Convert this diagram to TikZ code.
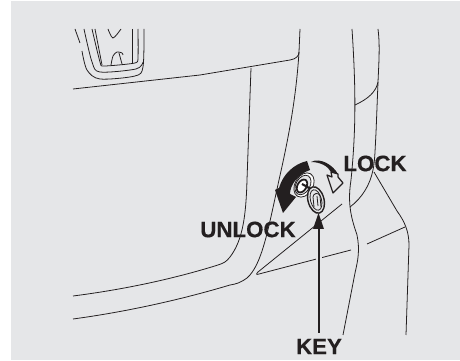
\documentclass[tikz,border=0pt]{standalone}
\usepackage{fontspec}
\setmainfont[BoldFeatures={FakeBold=0.4}]{Liberation Sans}
\definecolor{panel}{HTML}{E5E6E8}
\definecolor{ink}{HTML}{231F20}
\tikzset{
    outline/.style={draw=ink,line width=0.45pt},
    label/.style={text=ink,font=\fontsize{12.7}{12.7}\selectfont\bfseries,inner sep=0pt},
}
\begin{document}
\begin{tikzpicture}[x=0.02cm,y=-0.02cm]
    \useasboundingbox (0,0) rectangle (460,361);
    \fill[panel] (11,1) rectangle (460,360);
    % badge
    \draw[outline] (75,29) -- (80,43);
    \draw[outline] plot[smooth,tension=0.5] coordinates {(82,51) (87,70) (100,79) (135,76) (143,67) (144,29)};
    \draw[outline] plot[smooth,tension=0.5] coordinates {(84,29) (92,62) (100,72) (136,69) (143,62)};
    \draw[outline] plot[smooth,tension=0.4] coordinates {(92,29) (100,62) (104,66) (135,63) (138,57) (138,29)};
    \draw[outline] (95,29) -- (102,65);
    \draw[outline] (132,29) -- (132,63);
    \draw[outline] plot[smooth] coordinates {(108,29) (113,38) (121,29)};
    \draw[outline] plot[smooth] coordinates {(111,65) (113,56) (117,52) (122,53) (123,55)};
    \draw[outline] (119,53) -- (122,64);
    % tailgate
    \draw[outline] (73,89) -- (200,75) -- (290,60) .. controls (296,59) and (299,56) .. (299,52);
    \draw[outline] (251,68) -- (247,180) .. controls (246,215) and (243,240) .. (230,257) .. controls (226,262) and (224,263) .. (218,265) .. controls (170,280) and (120,290) .. (73,296);
    \draw[outline] (300,29) -- (299,52) .. controls (296,100) and (288,140) .. (279,180) .. controls (268,230) and (262,265) .. (247,278) .. controls (240,283) and (236,284) .. (230,285) .. controls (180,300) and (125,312) .. (73,319);
    % body side
    \draw[outline] (352,29) .. controls (356,90) and (356,130) .. (351,180) .. controls (347,205) and (352,220) .. (357,235) .. controls (360,250) and (358,260) .. (355,273) -- (343,335);
    \draw[outline] (378,29) .. controls (380,45) and (379,60) .. (378,82) -- (376,133) .. controls (375,150) and (375,160) .. (373,170) .. controls (370,185) and (362,198) .. (350,207);
    \draw[outline] (374,172) -- (397,211) .. controls (405,222) and (409,232) .. (409,245) -- (406,335);
    \draw[outline] (355,105) .. controls (368,99) and (376,92) .. (378,82);
    \draw[outline] (342,204) -- (258,272) .. controls (256,274) and (256,275) .. (259,274) -- (351,250);
    \draw[outline] (367,244) -- (405,227);
    % lock barrel
    \draw[outline,fill=white,rotate around={-30:(304,185)}] (304,185) ellipse (9 and 13);
    \draw[outline,fill=panel,rotate around={-30:(303,185)}] (303,185) ellipse (7 and 10.5);
    \draw[ink,line width=1pt,fill=white,rotate around={-30:(302,186)}] (302,186) ellipse (4.5 and 7);
    \draw[ink,line width=1.2pt] (302,184) -- (311,189);
    % key
    \draw[ink,line width=0.8pt,fill=panel,rotate around={15:(316,200)}] (316,200) ellipse (8 and 13.5);
    \draw[outline,rotate around={15:(316,200)}] (316,200) ellipse (5.5 and 10.5);
    \draw[outline] (314,207) -- (313,197) .. controls (313,193) and (319,192) .. (320,196) -- (321,207);
    \draw[outline] (317,196) -- (318,206);
    % turning arrows
    \fill[ink] (307,161) .. controls (294,164) and (283,174) .. (279,188) -- (275,190) -- (283,213) -- (296,197) -- (290,194) .. controls (290,185) and (298,174) .. (310,170) -- cycle;
    \fill[ink] (311,162) .. controls (320,157) and (333,165) .. (338,174) -- (331,172) .. controls (328,166) and (320,162) .. cycle;
    \draw[ink,line width=0.7pt,fill=panel,line join=round] (331,172) -- (338,174) -- (338,177) -- (343,183) -- (333,193) -- (327,175) -- (332,177) .. controls (332,175) and (331,174) .. cycle;
    % labels and pointer
    \node[label] (lock) at (375,163.5) {LOCK};
    \node[label] (unlock) at (248,229.5) {UNLOCK};
    \node[label] (keylabel) at (319,346.5) {KEY};
    \coordinate (keytip) at (318.5,213);
    \draw[panel,line width=3pt] (319,333) -- (319,229);
    \draw[ink,line width=1.2pt] (319,333) -- (319,225);
    \fill[ink] (keytip) -- (324,229) -- (313,229) -- cycle;
\end{tikzpicture}
\end{document}
